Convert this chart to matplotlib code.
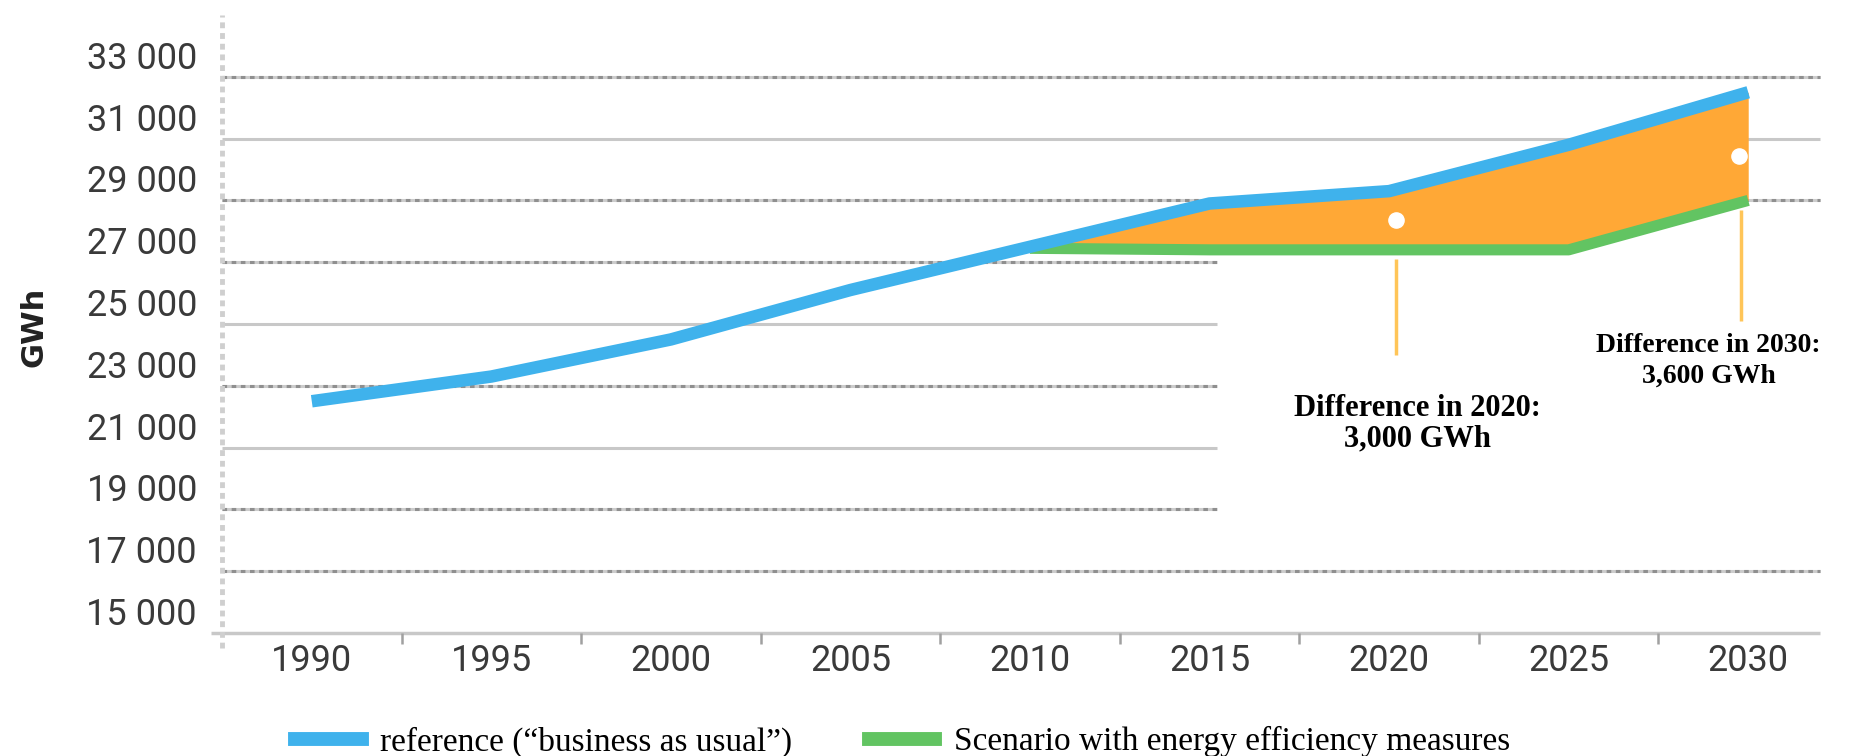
import matplotlib
matplotlib.use("Agg")
from matplotlib import pyplot as plt
from matplotlib.lines import Line2D
import matplotlib.transforms as mtransforms
import numpy as np

# data
years = [1990, 1995, 2000, 2005, 2010, 2015, 2020, 2025, 2030]
reference = [22500, 23300, 24500, 26100, 27500, 28900, 29300, 30800, 32500]
eff_years = [2010, 2015, 2020, 2025, 2030]
efficiency = [27450, 27400, 27400, 27400, 29000]

y_ticks = [15000, 17000, 19000, 21000, 23000, 25000, 27000, 29000, 31000, 33000]
y_labels = ["15 000", "17 000", "19 000", "21 000", "23 000", "25 000",
            "27 000", "29 000", "31 000", "33 000"]
full_grid = [17000, 29000, 31000, 33000]      # lines across the whole plot
short_grid = [19000, 21000, 23000, 25000, 27000]  # lines stopping near 2015
solid_grid = [21000, 25000, 31000]

diff_labels = ["Difference in 2020:\n3,000 GWh", "Difference in 2030:\n3,600 GWh"]
legend_labels = ["reference (\u201cbusiness as usual\u201d)",
                 "Scenario with energy efficiency measures"]

BLUE = "#3fb2ec"
GREEN = "#62c462"
ORANGE = "#ffa836"
STEM = "#ffc558"

fig = plt.figure(figsize=(18.7, 7.56), dpi=100)
ax = fig.add_axes([222 / 1870, 123 / 756, (1838 - 222) / 1870, 618 / 756])
ax.set_xlim(1987.5, 2032.5)
ax.set_ylim(15000, 35000)
for s in ax.spines.values():
    s.set_visible(False)

# grid lines
for v in full_grid + short_grid:
    x1 = 2032 if v in full_grid else 2015.2
    if v in solid_grid:
        ax.hlines(v, 1987.5, x1, color="#c8c8c8", lw=2.2, zorder=1)
    else:
        ax.hlines(v, 1987.5, x1, color="#cccccc", lw=2.2, zorder=1)
        ax.hlines(v, 1987.5, x1, color="#8f8f8f", lw=2.2, zorder=1,
                  linestyles=(0, (1.5, 1.5)))

# axes lines
ax.hlines(15000, 1987.2, 2032, color="#c8c8c8", lw=2.5, zorder=2, clip_on=False)
ax.vlines(1987.5, 14500, 35000, color="#cfcfcf", lw=3.5, zorder=2,
          linestyles=(0, (1.2, 1.0)), clip_on=False)
ax.vlines(np.arange(1992.5, 2030, 5), 14650, 15000, color="#a0a0a0", lw=1.8,
          zorder=2, clip_on=False)

# orange gap between the two scenarios
ref_on_eff = np.interp(eff_years, years, reference)
ax.fill_between(eff_years, efficiency, ref_on_eff, color=ORANGE, lw=0, zorder=3)

ax.plot(eff_years, efficiency, color=GREEN, lw=8, solid_capstyle="butt", zorder=4)
ax.plot(years, reference, color=BLUE, lw=9, solid_capstyle="butt", zorder=5)

# markers and stems for the two differences
ax.vlines(2020.2, 24000, 27100, color=STEM, lw=2.5, zorder=3)
ax.vlines(2029.8, 25100, 28700, color=STEM, lw=2.5, zorder=3)
ax.scatter([2020.2, 2029.75], [28350, 30450], s=120, color="white", zorder=6)

ax.text(2020.8, 22750, diff_labels[0], ha="center", va="top", fontsize=22,
        fontweight="bold", family="Liberation Serif", linespacing=1.1)
ax.text(2028.9, 24700, diff_labels[1], ha="center", va="top", fontsize=20,
        fontweight="bold", family="Liberation Serif", linespacing=1.3)

# ticks
ax.set_yticks(y_ticks)
ax.set_yticklabels(y_labels)
ax.set_xticks(years)
ax.set_xticklabels([str(y) for y in years])
ax.tick_params(axis="both", length=0, labelsize=26, labelcolor="#3a3a3a")
for lab in ax.get_xticklabels() + ax.get_yticklabels():
    lab.set_family("Roboto")
ax.tick_params(axis="y", pad=18)
ax.tick_params(axis="x", pad=7)
shift = mtransforms.ScaledTranslation(0, 0.22, fig.dpi_scale_trans)
for lab in ax.get_yticklabels():
    lab.set_transform(lab.get_transform() + shift)

fig.text(34 / 1870, 1 - 327 / 756, "GWh", rotation=90, ha="center", va="center",
         fontsize=22, fontweight="bold", color="#222222")

handles = [Line2D([], [], color=BLUE, lw=10), Line2D([], [], color=GREEN, lw=10)]
fig.legend(handles, legend_labels, loc="center left", bbox_to_anchor=(295 / 1870, 1 - 742 / 756),
           ncol=2, frameon=False, handlelength=2.0, handletextpad=0.55,
           columnspacing=2.3, borderpad=0, borderaxespad=0,
           prop={"family": "Liberation Serif", "size": 24})

fig.savefig("out.png", dpi=100)
